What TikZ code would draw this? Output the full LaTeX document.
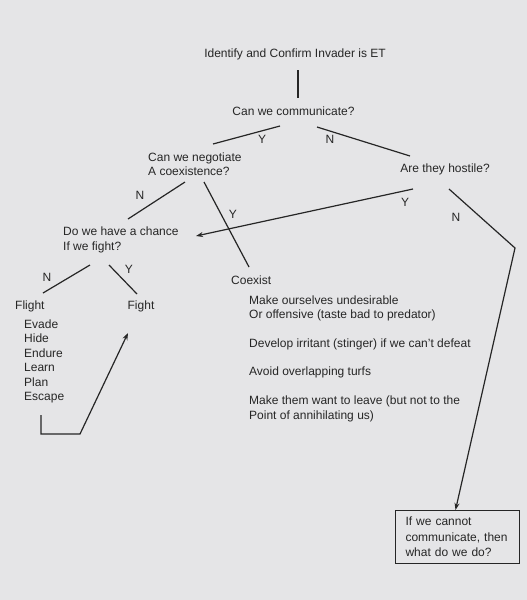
\documentclass[tikz,border=0pt]{standalone}
\usepackage{fontspec}
\setmainfont{Liberation Sans}
\usetikzlibrary{positioning,arrows.meta}
\definecolor{paper}{RGB}{229,229,231}
\definecolor{ink}{RGB}{38,38,38}

\begin{document}
\begin{tikzpicture}[x=1pt,y=-1pt,
  every node/.style={text=ink,inner sep=0pt,font=\fontsize{12}{14.5}\selectfont},
  txt/.style={align=left,anchor=north west},
  branch/.style={draw=ink,line width=1.2pt},
  pointer/.style={branch,-{Stealth[length=7pt,width=5pt]}},
  askbox/.style={txt,draw=ink,line width=1pt,text width=104pt,inner xsep=10pt,inner ysep=6.5pt,font=\fontsize{12}{15.5}\selectfont}]
\fill[paper] (0,0) rectangle (527,600);
\useasboundingbox (0,0) rectangle (527,600);

\node (et) at (295,54) {Identify and Confirm Invader is ET};
\node (comm) at (293.5,111) {Can we communicate?};
\node[txt] (nego) at (148,152.5) {Can we negotiate\\A coexistence?};
\node (hostile) at (445,169) {Are they hostile?};
\node[txt] (chance) at (63,227) {Do we have a chance\\If we fight?};
\node[anchor=west] (flight) at (15,306) {Flight};
\node (fight) at (141,306) {Fight};
\node[anchor=west] (coexist) at (231,280) {Coexist};
\node[txt] (moves) at (24,319.5) {Evade\\Hide\\Endure\\Learn\\Plan\\Escape};
\node[txt] (ideas) at (249,295.5) {Make ourselves undesirable\\Or offensive (taste bad to predator)\\[14.5pt]
  Develop irritant (stinger) if we can't defeat\\[13.5pt]Avoid overlapping turfs\\[14.5pt]
  Make them want to leave (but not to the\\Point of annihilating us)};
\node[askbox] (ask) at (395,510) {If we cannot\\communicate, then\\what do we do?};

\coordinate (et-stem) at (298,70);
\coordinate (comm-in) at (298,98);
\coordinate (comm-y) at (280,126);
\coordinate (nego-in) at (213,144);
\coordinate (comm-n) at (317,127);
\coordinate (hostile-in) at (410,156);
\coordinate (nego-n) at (185,182);
\coordinate (chance-in) at (128,219);
\coordinate (nego-y) at (204,182);
\coordinate (coexist-in) at (249,267);
\coordinate (hostile-y) at (413,189);
\coordinate (chance-tip) at (196,236);
\coordinate (hostile-n) at (449,189);
\coordinate (bend) at (515,248);
\coordinate (chance-n) at (90,265);
\coordinate (flight-in) at (43,293);
\coordinate (chance-y) at (109,265);
\coordinate (fight-in) at (137,294);
\coordinate (moves-out) at (41,415);
\coordinate (corner) at (41,434);
\coordinate (turn) at (80,434);
\coordinate (fight-tip) at (128,333);

\draw[branch] (et-stem) -- (comm-in);
\draw[branch] (comm-y) -- (nego-in);
\draw[branch] (comm-n) -- (hostile-in);
\draw[branch] (nego-n) -- (chance-in);
\draw[branch] (nego-y) -- (coexist-in);
\draw[pointer] (hostile-y) -- (chance-tip);
\draw[pointer] (hostile-n) -- (bend) -- ([xshift=-2pt]ask.north);
\draw[branch] (chance-n) -- (flight-in);
\draw[branch] (chance-y) -- (fight-in);
\draw[pointer] (moves-out) -- (corner) -- (turn) -- (fight-tip);

\node (y1) at (262,139) {Y};
\node (n1) at (330,139) {N};
\node (n2) at (140,195) {N};
\node (y2) at (233,214) {Y};
\node (y3) at (405,202) {Y};
\node (n3) at (456,217) {N};
\node (n4) at (47,277) {N};
\node (y4) at (129,269) {Y};
\end{tikzpicture}
\end{document}
